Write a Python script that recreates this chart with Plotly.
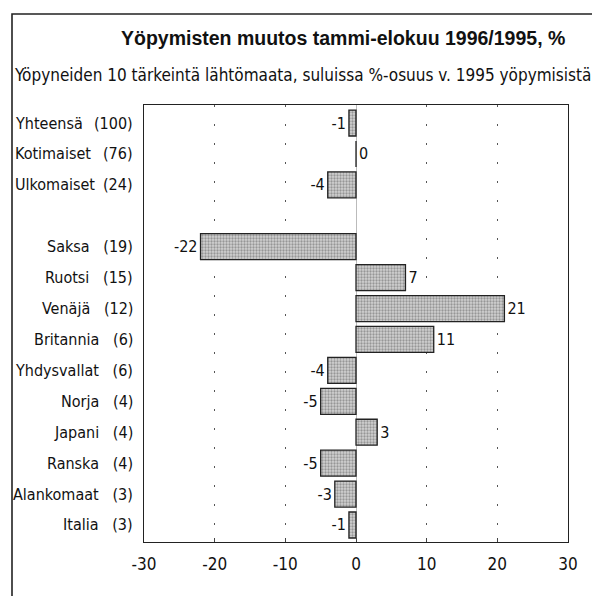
import plotly.graph_objects as go

# ---- data ----
total_names = ["Yhteensä", "Kotimaiset", "Ulkomaiset"]
total_shares = [100, 76, 24]
total_changes = [-1, 0, -4]

country_names = ["Saksa", "Ruotsi", "Venäjä", "Britannia", "Yhdysvallat",
                 "Norja", "Japani", "Ranska", "Alankomaat", "Italia"]
country_shares = [19, 15, 12, 6, 6, 4, 4, 4, 3, 3]
country_changes = [-22, 7, 21, 11, -4, -5, 3, -5, -3, -1]

x_ticks = [-30, -20, -10, 0, 10, 20, 30]

title = "Yöpymisten muutos tammi-elokuu 1996/1995, %"
subtitle = "Yöpyneiden 10 tärkeintä lähtömaata, suluissa %-osuus v. 1995 yöpymisistä"

# ---- positions (one empty slot between groups) ----
y_tot = list(range(len(total_names)))
y_cty = [len(total_names) + 1 + i for i in range(len(country_names))]

NARROW = "Liberation Sans Narrow, Arial Narrow, DejaVu Sans Condensed, sans-serif"
OFF = 8  # page body margin
W, H = 600 - OFF, 604 - 2 * OFF
L, T = 144 - OFF, 105 - OFF
PR, PB = 568 - OFF, 542 - OFF
R, B = W - PR, H - PB
pw, ph = PR - L, PB - T

def px_x(p):
    return (p - OFF - L) / pw

def px_y(p):
    return (PB - (p - OFF)) / ph

ys = y_tot + y_cty
vals = total_changes + country_changes

fig = go.Figure()
fig.add_trace(go.Bar(
    y=ys, x=vals, orientation="h", width=0.84,
    marker=dict(color="#c0c0c0",
                line=dict(color="#222", width=1.3),
                pattern=dict(shape=".", fgcolor="#5a5a5a", bgcolor="#d2d2d2",
                             size=3, solidity=0.45)),
    text=[str(v) for v in vals], textposition="outside",
    textfont=dict(family=NARROW, size=16, color="#111"),
    cliponaxis=False, hoverinfo="skip",
))

LF = 16
ann = []
for n, s, y in zip(total_names, total_shares, y_tot):
    ann.append(dict(x=px_x(13), y=y, xref="paper", yref="y", text=n,
                    xanchor="left", showarrow=False,
                    font=dict(family=NARROW, size=LF, color="#111")))
    ann.append(dict(x=px_x(135), y=y, xref="paper", yref="y", text=f"({s})",
                    xanchor="right", showarrow=False,
                    font=dict(family=NARROW, size=LF, color="#111")))
for n, s, y in zip(country_names, country_shares, y_cty):
    ann.append(dict(x=px_x(135), y=y, xref="paper", yref="y",
                    text=f"{n}&nbsp;&nbsp;&nbsp;({s})",
                    xanchor="right", showarrow=False,
                    font=dict(family=NARROW, size=LF, color="#111")))
ann.append(dict(x=px_x(343), y=px_y(38), xref="paper", yref="paper", text=f"<b>{title}</b>",
                showarrow=False, xanchor="center", yanchor="middle",
                font=dict(family="Liberation Sans, Arial, sans-serif", size=19.5, color="#111")))
ann.append(dict(x=px_x(302), y=px_y(75), xref="paper", yref="paper", text=subtitle,
                showarrow=False, xanchor="center", yanchor="middle",
                font=dict(family=NARROW, size=17, color="#111")))

fx0, fx1 = px_x(12), px_x(594)
fy0, fy1 = px_y(596), px_y(14)
frame_path = f"M {fx0},{fy0} L {fx0},{fy1} L {fx1},{fy1} L {fx1},{fy0}"
shapes = [dict(type="path", xref="paper", yref="paper", path=frame_path,
               line=dict(color="#222", width=1.6))]

fig.update_layout(
    width=W, height=H, margin=dict(l=L, r=R, t=T, b=B),
    paper_bgcolor="white", plot_bgcolor="white", showlegend=False,
    annotations=ann, shapes=shapes,
    xaxis=dict(range=[-30, 30], tickvals=x_ticks, ticktext=[str(t) for t in x_ticks],
               showgrid=True, gridcolor="#555", gridwidth=1, griddash="2px,17px",
               zeroline=True, zerolinecolor="#bbb", zerolinewidth=1,
               showline=True, linecolor="#222", linewidth=1.3, mirror=True,
               ticks="inside", ticklen=4, tickcolor="#444", ticklabelstandoff=6,
               tickfont=dict(family=NARROW, size=17, color="#111")),
    yaxis=dict(range=[13 + 17 / 30.9, -18 / 30.9], showticklabels=False, ticks="",
               showgrid=False, zeroline=False,
               showline=True, linecolor="#222", linewidth=1.3, mirror=True),
)

fig.write_html("out.html", config={"displayModeBar": False})
